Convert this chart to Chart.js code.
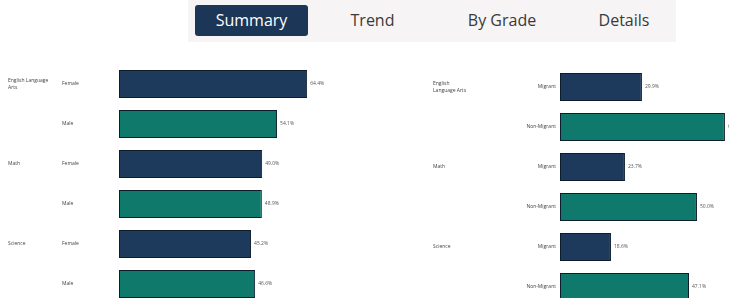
<!DOCTYPE html>
<html>
<head>
<meta charset="utf-8">
<script src="https://cdn.jsdelivr.net/npm/chart.js@4"></script>
<style>
  body { margin: 0; width: 729px; height: 298px; overflow: hidden; background: #fff; font-family: "Open Sans", sans-serif; position: relative; }
  .tabs { position: absolute; left: 188px; top: 0; width: 488px; height: 42px; background: #f6f4f5; }
  .tab { position: absolute; top: 5px; height: 31px; line-height: 31px; font-size: 16px; color: #3a3a3a; text-align: center; }
  .tab.active { background: #1c3657; color: #fff; border-radius: 3px; }
  .wrap { position: absolute; }
</style>
</head>
<body>
<div class="tabs">
  <div class="tab active" style="left:7px;width:113px;">Summary</div>
  <div class="tab" style="left:157px;width:55px;">Trend</div>
  <div class="tab" style="left:274px;width:80px;">By Grade</div>
  <div class="tab" style="left:403px;width:66px;">Details</div>
</div>
<div class="wrap" style="left:0;top:60px;width:360px;height:250px;"><canvas id="genderChart"></canvas></div>
<div class="wrap" style="left:370px;top:60px;width:359px;height:250px;"><canvas id="migrantChart"></canvas></div>
<script>
// subjects are shown once per group, next to the first row
const subjects = [['English Language', 'Arts'], 'Math', 'Science'];
const subjectsRight = [['English', 'Language Arts'], 'Math', 'Science'];

const genderLabels = ['Female', 'Male', 'Female', 'Male', 'Female', 'Male'];
const genderValues = [64.4, 54.1, 49.0, 48.9, 45.2, 46.6];

const migrantLabels = ['Migrant', 'Non-Migrant', 'Migrant', 'Non-Migrant', 'Migrant', 'Non-Migrant'];
const migrantValues = [29.9, 60.2, 23.7, 50.0, 18.6, 47.1];

const navy = '#1d3a5c';
const teal = '#0f7a6b';
const barColors = [navy, teal, navy, teal, navy, teal];

// draws subject + group labels on the left and the value labels after each bar
const labelPlugin = {
    id: 'sideLabels',
    afterDatasetsDraw(chart, args, opts) {
        const ctx = chart.ctx;
        const yScale = chart.scales.y;
        const meta = chart.getDatasetMeta(0);
        ctx.save();
        ctx.font = '5px "Open Sans", sans-serif';
        ctx.fillStyle = '#444';
        ctx.textBaseline = 'middle';
        // subject names
        opts.subjects.forEach((s, i) => {
            const y = yScale.getPixelForValue(i * 2);
            const lines = Array.isArray(s) ? s : [s];
            ctx.textAlign = 'left';
            lines.forEach((line, j) => {
                ctx.fillText(line, opts.subjectX, y + (j - (lines.length - 1) / 2) * 7);
            });
        });
        // group names
        chart.data.labels.forEach((lab, i) => {
            const y = yScale.getPixelForValue(i);
            ctx.textAlign = opts.groupAlign;
            ctx.fillText(lab, opts.groupX, y);
        });
        // values
        ctx.fillStyle = '#555';
        ctx.textAlign = 'left';
        meta.data.forEach((bar, i) => {
            const v = chart.data.datasets[0].data[i];
            ctx.fillText(v.toFixed(1) + '%', bar.x + 3, bar.y);
        });
        ctx.restore();
    }
};

function makeChart(id, labels, values, max, padLeft, pluginOpts) {
    return new Chart(document.getElementById(id), {
        type: 'bar',
        data: {
            labels: labels,
            datasets: [{
                data: values,
                backgroundColor: barColors,
                borderColor: '#0d1d2c',
                borderWidth: 1,
                borderSkipped: false,
                barPercentage: 0.7,
                categoryPercentage: 1
            }]
        },
        options: {
            indexAxis: 'y',
            responsive: true,
            maintainAspectRatio: false,
            animation: false,
            layout: { padding: { left: padLeft, top: pluginOpts.padTop, bottom: 250 - pluginOpts.padTop - 240, right: 0 } },
            plugins: {
                legend: { display: false },
                tooltip: { enabled: false },
                sideLabels: pluginOpts
            },
            scales: {
                x: { display: false, min: 0, max: max },
                y: { display: false }
            }
        },
        plugins: [labelPlugin]
    });
}

makeChart('genderChart', genderLabels, genderValues, 82.5, 119,
    { subjects: subjects, subjectX: 8, groupX: 62, groupAlign: 'left', padTop: 4 });
makeChart('migrantChart', migrantLabels, migrantValues, 61.7, 190,
    { subjects: subjectsRight, subjectX: 63, groupX: 186, groupAlign: 'right', padTop: 7 });
</script>
</body>
</html>
